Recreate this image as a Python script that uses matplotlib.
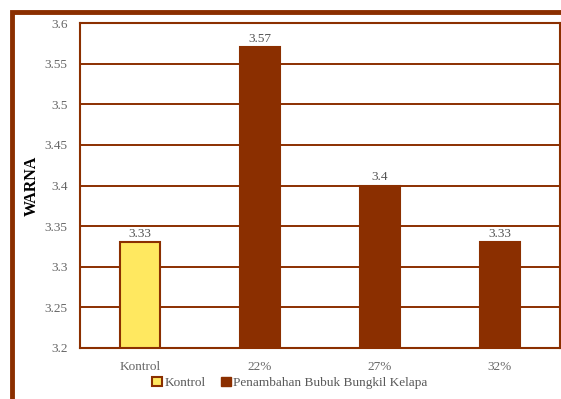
import matplotlib.pyplot as plt
from matplotlib.patches import Rectangle, Patch

categories = ['Kontrol', '22%', '27%', '32%']
values = [3.33, 3.57, 3.4, 3.33]
value_labels = ['3.33', '3.57', '3.4', '3.33']
yticks = [3.2, 3.25, 3.3, 3.35, 3.4, 3.45, 3.5, 3.55, 3.6]
legend_labels = ['Kontrol', 'Penambahan Bubuk Bungkil Kelapa']

brown = '#8B2F00'
yellow = '#FFE860'

plt.rcParams['font.family'] = ['Liberation Serif', 'DejaVu Serif']

fig = plt.figure(figsize=(5.61, 3.99), dpi=100)

# outer frame, runs off the right and bottom edges
fig.patches.append(Rectangle((12 / 561, -0.05), 1.1, 1 - 12 / 399 + 0.05,
                             transform=fig.transFigure, fill=False,
                             edgecolor=brown, linewidth=3.5))

ax = fig.add_axes([80 / 561, 1 - 348 / 399, 480 / 561, 325 / 399])

x = range(len(categories))
colors = [yellow, brown, brown, brown]
ax.bar(x, [v - 3.2 for v in values], bottom=3.2, width=0.33, color=colors,
       edgecolor=brown, linewidth=1.5, zorder=3)

for i, (v, lab) in enumerate(zip(values, value_labels)):
    ax.text(i, v + 0.003, lab, ha='center', va='bottom', fontsize=9.5, color='#555555')

ax.set_xlim(-0.5, 3.5)
ax.set_ylim(3.2, 3.6)
ax.set_yticks(yticks)
ax.set_yticklabels([f'{t:g}' for t in yticks])
ax.set_xticks(list(x))
ax.set_xticklabels(categories)
ax.tick_params(length=0, labelsize=9.5, colors='#666666', pad=9)
ax.grid(axis='y', color=brown, linewidth=1.4, zorder=0)
for s in ax.spines.values():
    s.set_color(brown)
    s.set_linewidth(1.5)

ax.set_ylabel('WARNA', fontsize=11.5, fontweight='bold')
ax.yaxis.set_label_coords(-0.083, 0.5)

handles = [Patch(facecolor=yellow, edgecolor=brown, linewidth=1.5),
           Patch(facecolor=brown, edgecolor=brown)]
fig.legend(handles, legend_labels, loc='center', bbox_to_anchor=(290 / 561, 1 - 383 / 399),
           ncol=2, frameon=False, fontsize=9.5, handlelength=0.7, handleheight=0.7,
           handletextpad=0.2, columnspacing=1.2, labelcolor='#595959')

fig.savefig('out.png', dpi=100)
